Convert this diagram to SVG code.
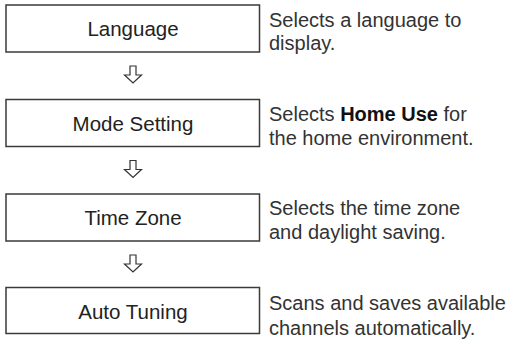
<svg xmlns="http://www.w3.org/2000/svg" width="511" height="339" viewBox="0 0 511 339">
<style>
.box{fill:#fff;stroke:#3a3a3a;stroke-width:1.5}
.lbl{font-family:"Liberation Sans",Arial,sans-serif;font-size:20.5px;fill:#222;text-anchor:middle}
.desc{font-family:"Liberation Sans",Arial,sans-serif;font-size:20px;fill:#333}
.arr{fill:#fff;stroke:#333;stroke-width:1.2;stroke-linejoin:miter}
</style>
<rect width="511" height="339" fill="#fff"/>
<g id="connectors">
<path class="arr" d="M130,66 H136 V75 H141.5 L133,83 L124.5,75 H130 Z"/>
<path class="arr" d="M130,160.5 H136 V169.5 H141.5 L133,177.5 L124.5,169.5 H130 Z"/>
<path class="arr" d="M130,255 H136 V264 H141.5 L133,272 L124.5,264 H130 Z"/>
</g>
<g id="language">
<rect class="box" x="6" y="5" width="253.5" height="47"/>
<text class="lbl" x="133" y="36">Language</text>
<text class="desc" x="269" y="26.5">Selects a language to</text>
<text class="desc" x="269" y="50">display.</text>
</g>
<g id="mode-setting">
<rect class="box" x="6" y="99.5" width="253.5" height="47"/>
<text class="lbl" x="133" y="130.5">Mode Setting</text>
<text class="desc" x="269" y="121">Selects <tspan font-weight="bold" fill="#111">Home Use</tspan> for</text>
<text class="desc" x="269" y="144.5">the home environment.</text>
</g>
<g id="time-zone">
<rect class="box" x="6" y="194" width="253.5" height="47"/>
<text class="lbl" x="133" y="225">Time Zone</text>
<text class="desc" x="269" y="214.5">Selects the time zone</text>
<text class="desc" x="269" y="238.5">and daylight saving.</text>
</g>
<g id="auto-tuning">
<rect class="box" x="6" y="287.5" width="253.5" height="46"/>
<text class="lbl" x="133" y="318.5">Auto Tuning</text>
<text class="desc" x="269" y="310">Scans and saves available</text>
<text class="desc" x="269" y="335">channels automatically.</text>
</g>
</svg>
